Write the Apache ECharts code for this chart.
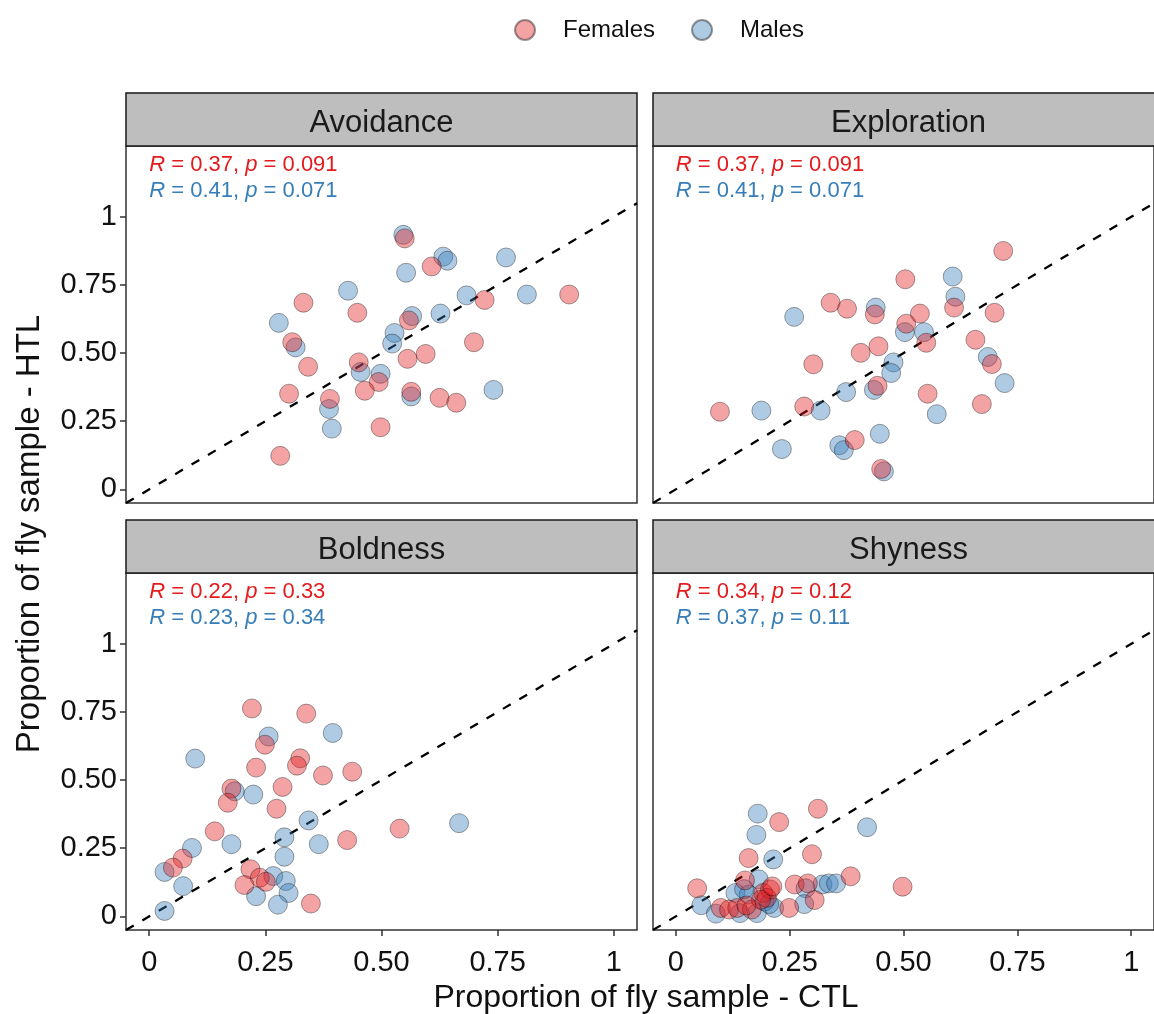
<!DOCTYPE html>
<html>
<head>
<meta charset="utf-8">
<script src="https://cdn.jsdelivr.net/npm/echarts@6/dist/echarts.min.js"></script>
<style>
  html, body { margin: 0; padding: 0; background: #ffffff; }
  #chart { width: 1154px; height: 1014px; }
</style>
</head>
<body>
<div id="chart"></div>
<script>
// Facet names, in drawing order (row by row)
const panelNames = ['Avoidance', 'Exploration', 'Boldness', 'Shyness'];

// Shared tick positions and their printed labels
const tickValues = [0, 0.25, 0.5, 0.75, 1];
const tickLabels = ['0', '0.25', '0.50', '0.75', '1'];

// Correlation annotations per facet
const femaleR = ['0.37', '0.37', '0.22', '0.34'];
const femaleP = ['0.091', '0.091', '0.33', '0.12'];
const maleR = ['0.41', '0.41', '0.23', '0.37'];
const maleP = ['0.071', '0.071', '0.34', '0.11'];

// Identity reference line (HTL = CTL)
const identityLine = [[-0.05, -0.05], [1.05, 1.05]];

// [CTL proportion, HTL proportion] per fly sample
const avoidanceFemales = [[0.550,0.921],[0.608,0.818],[0.332,0.685],[0.722,0.695],[0.904,0.715],[0.448,0.648],[0.559,0.620],[0.308,0.540],[0.699,0.540],[0.556,0.479],[0.595,0.497],[0.342,0.450],[0.451,0.466],[0.494,0.394],[0.464,0.362],[0.564,0.358],[0.301,0.351],[0.389,0.332],[0.625,0.336],[0.661,0.318],[0.498,0.228],[0.282,0.123]];
const avoidanceMales = [[0.547,0.934],[0.633,0.854],[0.642,0.839],[0.768,0.851],[0.553,0.795],[0.428,0.729],[0.683,0.712],[0.813,0.715],[0.279,0.611],[0.566,0.636],[0.627,0.645],[0.315,0.521],[0.528,0.574],[0.523,0.535],[0.455,0.431],[0.498,0.424],[0.564,0.341],[0.387,0.295],[0.741,0.365],[0.393,0.223]];

const explorationFemales = [[0.719,0.875],[0.504,0.771],[0.611,0.667],[0.340,0.685],[0.376,0.663],[0.437,0.642],[0.536,0.645],[0.700,0.648],[0.506,0.608],[0.550,0.538],[0.658,0.549],[0.445,0.525],[0.406,0.501],[0.694,0.460],[0.302,0.459],[0.443,0.380],[0.553,0.351],[0.672,0.313],[0.097,0.285],[0.282,0.304],[0.393,0.181],[0.451,0.075]];
const explorationMales = [[0.608,0.781],[0.614,0.707],[0.439,0.667],[0.260,0.633],[0.503,0.577],[0.545,0.577],[0.685,0.486],[0.478,0.466],[0.473,0.427],[0.722,0.390],[0.435,0.365],[0.374,0.357],[0.188,0.289],[0.318,0.289],[0.573,0.276],[0.448,0.204],[0.359,0.162],[0.369,0.144],[0.233,0.148],[0.457,0.066]];

const boldnessFemales = [[0.221,0.763],[0.338,0.744],[0.249,0.630],[0.325,0.580],[0.318,0.553],[0.230,0.546],[0.374,0.517],[0.437,0.531],[0.177,0.469],[0.169,0.417],[0.287,0.475],[0.274,0.395],[0.141,0.312],[0.539,0.322],[0.426,0.280],[0.072,0.212],[0.051,0.179],[0.218,0.173],[0.238,0.142],[0.251,0.127],[0.205,0.115],[0.348,0.047]];
const boldnessMales = [[0.395,0.673],[0.257,0.660],[0.099,0.579],[0.184,0.459],[0.224,0.447],[0.343,0.352],[0.667,0.342],[0.177,0.265],[0.291,0.290],[0.365,0.265],[0.092,0.251],[0.033,0.163],[0.291,0.219],[0.073,0.111],[0.033,0.020],[0.267,0.148],[0.294,0.130],[0.300,0.086],[0.230,0.074],[0.277,0.043]];

const shynessFemales = [[0.312,0.395],[0.227,0.346],[0.299,0.228],[0.160,0.214],[0.384,0.147],[0.498,0.109],[0.047,0.103],[0.261,0.117],[0.290,0.121],[0.305,0.060],[0.249,0.031],[0.152,0.132],[0.099,0.031],[0.117,0.025],[0.135,0.031],[0.167,0.025],[0.192,0.086],[0.207,0.099],[0.200,0.068],[0.187,0.061],[0.155,0.040],[0.212,0.110]];
const shynessMales = [[0.180,0.377],[0.420,0.327],[0.177,0.299],[0.214,0.209],[0.056,0.041],[0.322,0.117],[0.336,0.121],[0.352,0.121],[0.285,0.103],[0.282,0.045],[0.088,0.010],[0.131,0.086],[0.182,0.136],[0.160,0.080],[0.141,0.012],[0.178,0.012],[0.216,0.031],[0.150,0.100],[0.195,0.055],[0.205,0.045]];

const femalesByPanel = [avoidanceFemales, explorationFemales, boldnessFemales, shynessFemales];
const malesByPanel = [avoidanceMales, explorationMales, boldnessMales, shynessMales];

// Styling
const FONT = '"Liberation Sans", Arial, Helvetica, sans-serif';
const RED = '#E41A1C';
const BLUE = '#377EB8';
const RED_FILL = 'rgba(228,26,28,0.5)';
const BLUE_FILL = 'rgba(55,126,184,0.5)';
const POINT_EDGE = 'rgba(0,0,0,0.5)';
const STRIP_H = 53;

const grids = [
  { left: 126, top: 146, width: 511, height: 357 },
  { left: 653, top: 146, width: 511, height: 357 },
  { left: 126, top: 573, width: 511, height: 357 },
  { left: 653, top: 573, width: 511, height: 357 }
];

function tickText(v) {
  for (let k = 0; k < tickValues.length; k++) {
    if (Math.abs(tickValues[k] - v) < 1e-9) return tickLabels[k];
  }
  return '';
}

const xAxes = grids.map((g, i) => {
  const bottomRow = i >= 2;
  return {
    type: 'value', gridIndex: i, min: -0.05, max: 1.05, position: 'bottom',
    axisLine: { show: false, onZero: false },
    splitLine: { show: false },
    axisTick: {
      show: bottomRow, customValues: tickValues, length: 6,
      lineStyle: { color: '#333333', width: 1.5 }
    },
    axisLabel: {
      show: bottomRow, customValues: tickValues, formatter: tickText,
      fontSize: 29, color: '#111111', fontFamily: FONT, margin: 18
    }
  };
});

const yAxes = grids.map((g, i) => {
  const leftCol = i % 2 === 0;
  return {
    type: 'value', gridIndex: i, min: -0.05, max: 1.26, position: 'left',
    axisLine: { show: false, onZero: false },
    splitLine: { show: false },
    axisTick: {
      show: leftCol, customValues: tickValues, length: 6,
      lineStyle: { color: '#333333', width: 1.5 }
    },
    axisLabel: {
      show: leftCol, customValues: tickValues, formatter: tickText,
      fontSize: 29, color: '#111111', fontFamily: FONT, margin: 9
    }
  };
});

const series = [];
grids.forEach((g, i) => {
  series.push({
    type: 'line', name: 'identity', xAxisIndex: i, yAxisIndex: i,
    data: identityLine, symbol: 'none', silent: true, clip: true,
    lineStyle: { color: '#000000', width: 2.3, type: [9, 10] },
    z: 1
  });
  series.push({
    type: 'scatter', name: 'Males', xAxisIndex: i, yAxisIndex: i,
    data: malesByPanel[i], symbolSize: 19,
    itemStyle: { color: BLUE_FILL, borderColor: POINT_EDGE, borderWidth: 0.9 },
    z: 2
  });
  series.push({
    type: 'scatter', name: 'Females', xAxisIndex: i, yAxisIndex: i,
    data: femalesByPanel[i], symbolSize: 19,
    itemStyle: { color: RED_FILL, borderColor: POINT_EDGE, borderWidth: 0.9 },
    z: 2
  });
});

const chart = echarts.init(document.getElementById('chart'), null, { renderer: 'canvas' });

chart.setOption({
  backgroundColor: '#ffffff',
  animation: false,
  legend: {
    data: ['Females', 'Males'],
    left: 509, top: 13,
    icon: 'circle', itemWidth: 20, itemHeight: 20, itemGap: 36,
    selectedMode: false,
    textStyle: { fontSize: 24, color: '#111111', fontFamily: FONT, padding: [0, 0, 0, 23] }
  },
  grid: grids.map(g => Object.assign({
    show: true, borderColor: '#333333', borderWidth: 1.5, backgroundColor: '#ffffff',
    containLabel: false
  }, g)),
  xAxis: xAxes,
  yAxis: yAxes,
  series: series
});

// Facet strips, axis titles and correlation labels
const graphics = [];
grids.forEach((g, i) => {
  graphics.push({
    type: 'rect', silent: true, z: 10,
    shape: { x: g.left, y: g.top - STRIP_H, width: g.width, height: STRIP_H },
    style: { fill: '#BEBEBE', stroke: '#1a1a1a', lineWidth: 1.5 }
  });
  graphics.push({
    type: 'text', silent: true, z: 11,
    x: g.left + g.width / 2, y: g.top - STRIP_H / 2 + 4,
    style: {
      text: panelNames[i], fill: '#1a1a1a', fontSize: 31, fontFamily: FONT,
      align: 'center', verticalAlign: 'middle'
    }
  });
  const lines = [
    { y: 1.19, color: RED, r: femaleR[i], p: femaleP[i] },
    { y: 1.095, color: BLUE, r: maleR[i], p: maleP[i] }
  ];
  lines.forEach(l => {
    const pt = chart.convertToPixel({ xAxisIndex: i, yAxisIndex: i }, [0, l.y]);
    graphics.push({
      type: 'text', silent: true, z: 11,
      x: pt[0], y: pt[1],
      style: {
        text: '{i|R} = ' + l.r + ', {i|p} = ' + l.p,
        fill: l.color, fontSize: 22, fontFamily: FONT,
        align: 'left', verticalAlign: 'middle',
        rich: { i: { fontStyle: 'italic', fill: l.color, fontSize: 22, fontFamily: FONT } }
      }
    });
  });
});

graphics.push({
  type: 'text', silent: true, z: 11,
  x: 646, y: 998,
  style: {
    text: 'Proportion of fly sample - CTL', fill: '#111111', fontSize: 32, fontFamily: FONT,
    align: 'center', verticalAlign: 'middle'
  }
});
graphics.push({
  type: 'text', silent: true, z: 11,
  x: 30, y: 534, rotation: Math.PI / 2,
  style: {
    text: 'Proportion of fly sample - HTL', fill: '#111111', fontSize: 33, fontFamily: FONT,
    align: 'center', verticalAlign: 'middle'
  }
});

chart.setOption({ graphic: graphics });
</script>
</body>
</html>
